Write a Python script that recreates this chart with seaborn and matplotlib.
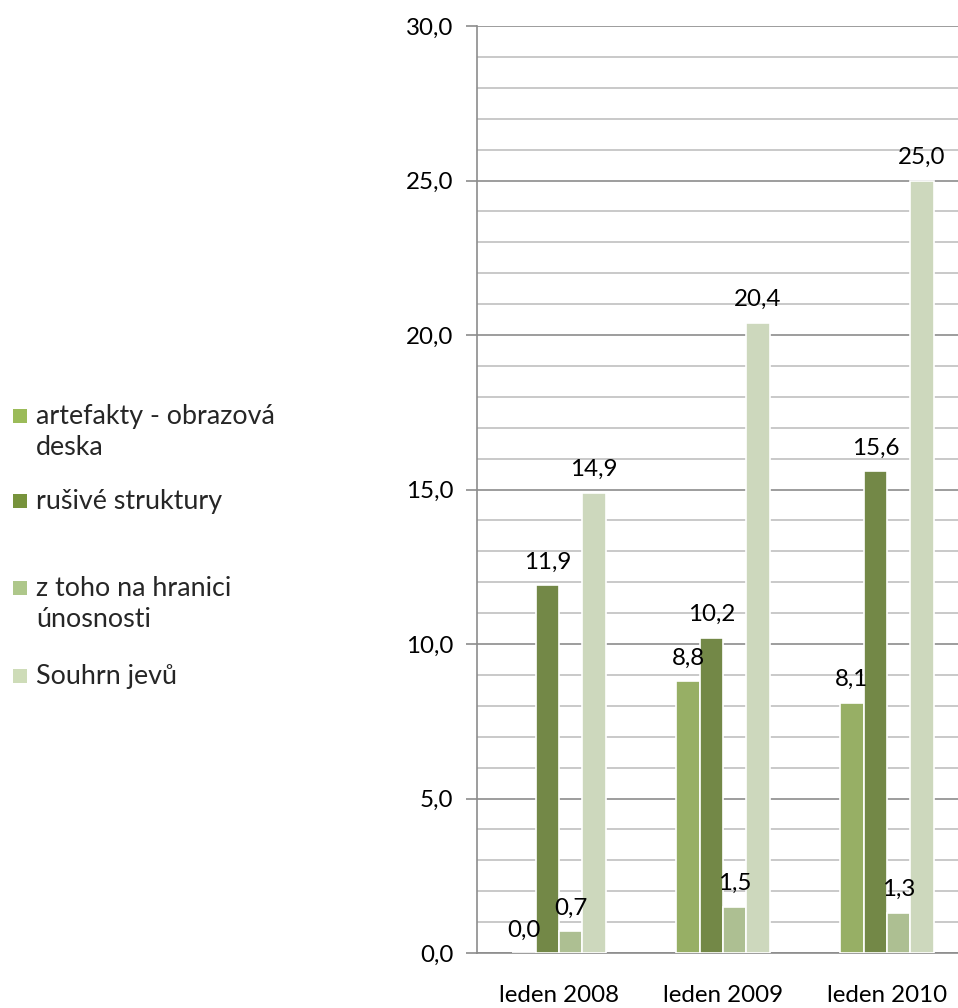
import pandas as pd
import matplotlib.pyplot as plt
import seaborn as sns
from matplotlib.ticker import MultipleLocator, FuncFormatter
from matplotlib.patches import Rectangle

# Chart data
categories = ["leden 2008", "leden 2009", "leden 2010"]
series_names = ["artefakty - obrazová deska", "rušivé struktury",
                "z toho na hranici únosnosti", "Souhrn jevů"]
legend_labels = ["artefakty - obrazová\ndeska", "rušivé struktury",
                 "z toho na hranici\núnosnosti", "Souhrn jevů"]
artefakty = [0.0, 8.8, 8.1]
rusive = [11.9, 10.2, 15.6]
hranice = [0.7, 1.5, 1.3]
souhrn = [14.9, 20.4, 25.0]
colors = ["#9BBB59", "#77933C", "#AEC78A", "#CEDCB8"]

rows = []
for name, vals in zip(series_names, [artefakty, rusive, hranice, souhrn]):
    for cat, v in zip(categories, vals):
        rows.append({"kategorie": cat, "serie": name, "hodnota": v})
df = pd.DataFrame(rows)

sns.set_theme(style="white")
plt.rcParams['font.family'] = ['Lato', 'DejaVu Sans']
FS = 17.4
FS_LEG = 19.4

fig = plt.figure(figsize=(9.58, 10.08), dpi=100)
ax = fig.add_axes([477 / 958, 1 - 953 / 1008, 492 / 958, 927 / 1008])

sns.barplot(data=df, x="kategorie", y="hodnota", hue="serie",
            order=categories, hue_order=series_names, palette=colors,
            width=0.57, gap=0, edgecolor="white", linewidth=1.2,
            legend=False, ax=ax, zorder=3)

# value labels with decimal comma
for cont in ax.containers:
    ax.bar_label(cont, labels=[f"{b.get_height():.1f}".replace(".", ",") for b in cont],
                 padding=9, fontsize=FS, color="black")

ax.set_ylim(0, 30)
ax.set_xlim(-0.5, 2.5)
ax.yaxis.set_major_locator(MultipleLocator(5))
ax.yaxis.set_minor_locator(MultipleLocator(1))
ax.yaxis.set_major_formatter(FuncFormatter(lambda v, p: f"{v:.1f}".replace(".", ",")))
ax.grid(axis="y", which="major", color="#8C8C8C", linewidth=1.2, zorder=0)
ax.grid(axis="y", which="minor", color="#C0C0C0", linewidth=1.2, zorder=0)
ax.set_axisbelow(True)

ax.tick_params(axis="y", which="major", left=True, length=8, width=1.2,
               color="#8C8C8C", pad=9, labelsize=FS, labelcolor="black")
ax.tick_params(axis="y", which="minor", left=False)
ax.tick_params(axis="x", bottom=False, pad=17, labelsize=FS, labelcolor="black")
ax.set_xlabel("")
ax.set_ylabel("")

for s in ["top", "right"]:
    ax.spines[s].set_visible(False)
for s in ["left", "bottom"]:
    ax.spines[s].set_color("#8C8C8C")
    ax.spines[s].set_linewidth(1.2)

# legend on the left (Excel-like spacing)
legend_y = [416, 501, 588, 676]
for lab, col, yy in zip(legend_labels, colors, legend_y):
    fig.patches.append(Rectangle((13 / 958, 1 - (yy + 7) / 1008), 14 / 958, 14 / 1008,
                                 transform=fig.transFigure, facecolor=col,
                                 edgecolor="none", figure=fig))
    fig.text(36 / 958, 1 - (yy - 12) / 1008, lab, fontsize=FS_LEG, va="top", ha="left",
             linespacing=1.3, transform=fig.transFigure)

fig.savefig("out.png", dpi=100)
